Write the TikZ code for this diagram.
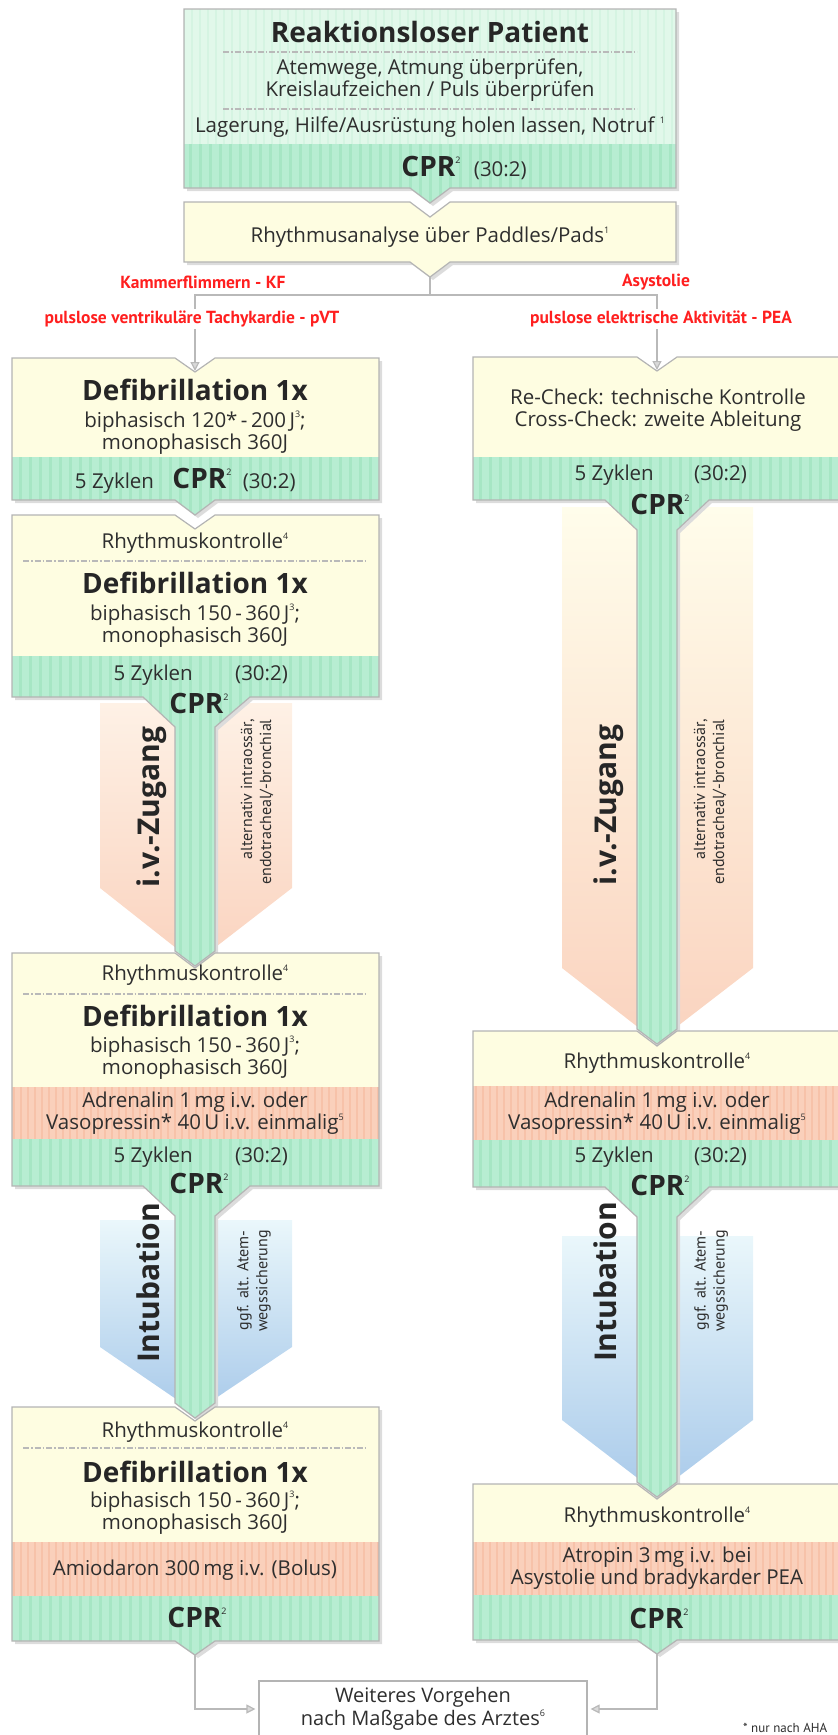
\documentclass[tikz,border=0pt]{standalone}
\usepackage{fontspec}
\setmainfont{Open Sans}
\newfontfamily\narrowfont{PT Sans}
\usetikzlibrary{arrows.meta,patterns.meta,positioning}

\definecolor{mint}{HTML}{E1F8EA}
\definecolor{mintstripe}{HTML}{D5F4E2}
\definecolor{cprgreen}{HTML}{B7EDD2}
\definecolor{cprstripe}{HTML}{A6E6C4}
\definecolor{cream}{HTML}{FEFDE1}
\definecolor{salmon}{HTML}{FAD0BB}
\definecolor{salmonstripe}{HTML}{F7C2A9}
\definecolor{bordergray}{HTML}{B4B4B4}
\definecolor{shadowgray}{HTML}{DCDCDC}
\definecolor{textgray}{HTML}{2E2E2E}
\definecolor{alarmred}{HTML}{FF1F1F}
\definecolor{ivtop}{HTML}{FFFDEB}
\definecolor{ivmid}{HTML}{FDE9E2}
\definecolor{ivbot}{HTML}{FAD3BF}
\definecolor{tubetop}{HTML}{EAF7FB}
\definecolor{tubemid}{HTML}{D6E2F4}
\definecolor{tubebot}{HTML}{A9CAEA}

% small raised footnote numbers
\newcommand{\hoch}[1]{\raisebox{0.45em}{\fontsize{9}{9}\selectfont\mdseries #1}}

\begin{document}
\begin{tikzpicture}[x=1pt, y=-1pt,
    boxline/.style={draw=bordergray, line width=1.2pt,
      preaction={fill=shadowgray, transform canvas={shift={(3,3)}}}},
    mintfill/.style={fill=mint, postaction={pattern={Lines[angle=90,distance=8pt,line width=2pt]}, pattern color=mintstripe}},
    cprband/.style={fill=cprgreen, postaction={pattern={Lines[angle=90,distance=10pt,line width=3pt]}, pattern color=cprstripe}},
    salmonband/.style={fill=salmon, postaction={pattern={Lines[angle=90,distance=7pt,line width=2.5pt]}, pattern color=salmonstripe}},
    txt/.style={font=\fontsize{20.5}{22.5}\selectfont, text=textgray, align=center, inner sep=0pt},
    title/.style={font=\fontsize{28}{31}\selectfont\bfseries, text=black!85, inner sep=0pt},
    head/.style={font=\fontsize{28}{31}\selectfont\bfseries, text=black!85, inner sep=0pt},
    cpr/.style={font=\fontsize{28}{31}\selectfont\bfseries, text=black!85, inner sep=0pt},
    redlabel/.style={font=\narrowfont\fontsize{17.5}{20}\selectfont\bfseries, text=alarmred, fill=white, inner sep=2pt},
    sidebig/.style={rotate=90, font=\fontsize{30}{32}\selectfont\bfseries, text=black!85, inner sep=0pt},
    sidesmall/.style={rotate=90, font=\narrowfont\fontsize{16}{19}\selectfont, text=textgray, align=right, inner sep=0pt},
    sepline/.style={draw=gray!55, line width=1.3pt, dash pattern=on 6pt off 2pt on 1.5pt off 2pt},
    flowline/.style={draw=gray!55, line width=1.2pt},
    flow/.style={flowline, -{Triangle[length=9pt,width=9pt,fill=gray!30]}},
    endbox/.style={draw=bordergray, line width=1.2pt, fill=white, minimum width=328pt,
      minimum height=56pt, font=\fontsize{20}{23}\selectfont, text=textgray, align=center}
  ]
  \useasboundingbox (0,0) rectangle (838,1735);
  \clip (0,0) rectangle (838,1735);

  % Side panels: i.v.-Zugang and Intubation
  \shade[top color=ivtop!40!ivmid, bottom color=ivbot] (100,703) -- (292,703) -- (292,888) -- (195,963) -- (100,888) -- cycle;
  \shade[top color=ivtop, middle color=ivmid, bottom color=ivbot] (562,507) -- (753,507) -- (753,968) -- (657,1042) -- (562,968) -- cycle;
  \shade[top color=tubetop, middle color=tubemid, bottom color=tubebot] (100,1220) -- (292,1220) -- (292,1347) -- (195,1412) -- (100,1347) -- cycle;
  \shade[top color=tubetop, middle color=tubemid, bottom color=tubebot] (562,1236) -- (753,1236) -- (753,1420) -- (657,1493) -- (562,1420) -- cycle;

  % Reaktionsloser Patient
  \draw[boxline, fill=mint, path picture={
      \fill[mintfill] (0,0) rectangle (900,144);
      \fill[cprband] (0,144) rectangle (900,260);}]
    (184,9) -- (676,9) -- (676,188) -- (450,188) -- (430,203) -- (410,188) -- (184,188) -- cycle;
  \draw[sepline] (223,52) -- (637,52);
  \draw[sepline] (223,109) -- (637,109);
  \node[title] (patient) at (430,32) {Reaktionsloser Patient};
  \node[txt] (pruefen) at (430,80) {Atemwege, Atmung überprüfen,\\Kreislaufzeichen / Puls überprüfen};
  \node[txt] (lagerung) at (430,127) {Lagerung, Hilfe/Ausrüstung holen lassen, Notruf \hoch{1}};
  \node[cpr] (cprTop) at (431,166) {CPR\hoch{2}};
  \node[txt, base right=13pt of cprTop] (ratioTop) {(30:2)};

  % Rhythmusanalyse
  \draw[boxline, fill=cream]
    (184,202) -- (410,202) -- (430,217) -- (450,202) -- (676,202) -- (676,262) -- (450,262) -- (430,277) -- (410,262) -- (184,262) -- cycle;
  \node[txt] (analyse) at (430,237) {Rhythmusanalyse über Paddles/Pads\hoch{1}};
  \coordinate (analyseOut) at (430,277);
  \coordinate (split) at (430,295);
  \coordinate (defibIn) at (195,371);
  \coordinate (checkIn) at (657,370);

  \draw[flowline] (analyseOut) -- (split);
  \draw[flow] (split) -| (defibIn);
  \draw[flow] (split) -| (checkIn);
  \node[redlabel] (kf) at (203,282) {Kammerflimmern - KF};
  \node[redlabel] (asys) at (656,282) {Asystolie};
  \node[redlabel] (pvt) at (192,319) {pulslose ventrikuläre Tachykardie - pVT};
  \node[redlabel] (pea) at (661,319) {pulslose elektrische Aktivität - PEA};

  % Left column, first shock
  \draw[boxline, fill=cream, path picture={\fill[cprband] (0,457) rectangle (900,560);}]
    (12,358) -- (175,358) -- (195,372) -- (215,358) -- (379,358) -- (379,500) -- (215,500) -- (195,515) -- (175,500) -- (12,500) -- cycle;
  \node[head] (defibA) at (195,390) {Defibrillation 1x};
  \node[txt] (joulesA) at (195,433) {biphasisch 120*\,-\,200\,J\hoch{3};\\monophasisch 360J};
  \node[cpr] (cprA) at (202,478) {CPR\hoch{2}};
  \node[txt, base left=18pt of cprA] (zyklenA) {5 Zyklen};
  \node[txt, base right=11pt of cprA] (ratioA) {(30:2)};

  % Left column, second shock
  \draw[boxline, fill=cream, path picture={\fill[cprband] (0,656) rectangle (900,1000);}]
    (12,515) -- (175,515) -- (195,529) -- (215,515) -- (379,515) -- (379,697) -- (250,697) -- (215,727)
    -- (215,951) -- (195,966) -- (175,951) -- (175,727) -- (143,697) -- (12,697) -- cycle;
  \node[txt] (kontrolleB) at (195,543) {Rhythmuskontrolle\hoch{4}};
  \draw[sepline] (23,561) -- (367,561);
  \node[head] (defibB) at (195,583) {Defibrillation 1x};
  \node[txt] (joulesB) at (195,626) {biphasisch 150\,-\,360\,J\hoch{3};\\monophasisch 360J};
  \node[txt, anchor=base east] (zyklenB) at (193,680) {5 Zyklen};
  \node[txt, anchor=base west] (ratioB) at (235,680) {(30:2)};
  \node[cpr] (cprB) at (199,703) {CPR\hoch{2}};
  \node[sidebig] (ivL) at (152,807) {i.v.-Zugang};
  \node[sidesmall] (altL) at (257,802) {alternativ intraossär,\\endotracheal/-bronchial};

  % Left column, third shock
  \draw[boxline, fill=cream, path picture={
      \fill[salmonband] (0,1087) rectangle (900,1139);
      \fill[cprband] (0,1139) rectangle (900,1500);}]
    (12,953) -- (175,953) -- (195,968) -- (215,953) -- (379,953) -- (379,1186) -- (250,1186) -- (215,1216)
    -- (215,1403) -- (195,1418) -- (175,1403) -- (175,1216) -- (143,1186) -- (12,1186) -- cycle;
  \node[txt] (kontrolleC) at (195,975) {Rhythmuskontrolle\hoch{4}};
  \draw[sepline] (23,994) -- (367,994);
  \node[head] (defibC) at (195,1016) {Defibrillation 1x};
  \node[txt] (joulesC) at (195,1058) {biphasisch 150\,-\,360\,J\hoch{3};\\monophasisch 360J};
  \node[txt] (adrenalinC) at (195,1113) {Adrenalin 1\,mg i.v. oder\\Vasopressin* 40\,U i.v. einmalig\hoch{5}};
  \node[txt, anchor=base east] (zyklenC) at (193,1162) {5 Zyklen};
  \node[txt, anchor=base west] (ratioC) at (235,1162) {(30:2)};
  \node[cpr] (cprC) at (199,1183) {CPR\hoch{2}};
  \node[sidebig] (tubeL) at (148,1283) {Intubation};
  \node[sidesmall] (atemL) at (254,1281) {ggf. alt. Atem-\\wegssicherung};

  % Left column, fourth shock
  \draw[boxline, fill=cream, path picture={
      \fill[salmonband] (0,1542) rectangle (900,1596);
      \fill[cprband] (0,1596) rectangle (900,1700);}]
    (12,1407) -- (175,1407) -- (195,1421) -- (215,1407) -- (379,1407) -- (379,1641) -- (215,1641) -- (195,1655) -- (175,1641) -- (12,1641) -- cycle;
  \node[txt] (kontrolleD) at (195,1432) {Rhythmuskontrolle\hoch{4}};
  \draw[sepline] (23,1448) -- (367,1448);
  \node[head] (defibD) at (195,1472) {Defibrillation 1x};
  \node[txt] (joulesD) at (195,1513) {biphasisch 150\,-\,360\,J\hoch{3};\\monophasisch 360J};
  \node[txt] (amiodaron) at (195,1570) {Amiodaron 300\,mg i.v. (Bolus)};
  \node[cpr] (cprD) at (197,1617) {CPR\hoch{2}};
  \coordinate (defibOut) at (195,1655);

  % Right column, re-check
  \draw[boxline, fill=cream, path picture={\fill[cprband] (0,457) rectangle (900,1100);}]
    (473,357) -- (637,357) -- (657,371) -- (677,357) -- (841,357) -- (841,500) -- (709,500) -- (677,530)
    -- (677,1029) -- (657,1044) -- (637,1029) -- (637,530) -- (605,500) -- (473,500) -- cycle;
  \node[txt] (recheck) at (658,410) {Re-Check: technische Kontrolle\\Cross-Check: zweite Ableitung};
  \node[txt, anchor=base east] (zyklenR) at (654,480) {5 Zyklen};
  \node[txt, anchor=base west] (ratioR) at (694,480) {(30:2)};
  \node[cpr] (cprR) at (660,504) {CPR\hoch{2}};
  \node[sidebig] (ivR) at (609,805) {i.v.-Zugang};
  \node[sidesmall] (altR) at (710,802) {alternativ intraossär,\\endotracheal/-bronchial};

  % Right column, adrenalin
  \draw[boxline, fill=cream, path picture={
      \fill[salmonband] (0,1086) rectangle (900,1140);
      \fill[cprband] (0,1140) rectangle (900,1550);}]
    (473,1031) -- (637,1031) -- (657,1046) -- (677,1031) -- (841,1031) -- (841,1187) -- (709,1187) -- (677,1217)
    -- (677,1482) -- (657,1497) -- (637,1482) -- (637,1217) -- (605,1187) -- (473,1187) -- cycle;
  \node[txt] (kontrolleR) at (657,1063) {Rhythmuskontrolle\hoch{4}};
  \node[txt] (adrenalinR) at (657,1113) {Adrenalin 1\,mg i.v. oder\\Vasopressin* 40\,U i.v. einmalig\hoch{5}};
  \node[txt, anchor=base east] (zyklenS) at (654,1162) {5 Zyklen};
  \node[txt, anchor=base west] (ratioS) at (694,1162) {(30:2)};
  \node[cpr] (cprS) at (660,1185) {CPR\hoch{2}};
  \node[sidebig] (tubeR) at (605,1282) {Intubation};
  \node[sidesmall] (atemR) at (711,1281) {ggf. alt. Atem-\\wegssicherung};

  % Right column, atropin
  \draw[boxline, fill=cream, path picture={
      \fill[salmonband] (0,1542) rectangle (900,1595);
      \fill[cprband] (0,1595) rectangle (900,1700);}]
    (473,1484) -- (637,1484) -- (657,1499) -- (677,1484) -- (841,1484) -- (841,1640) -- (677,1640) -- (657,1654) -- (637,1640) -- (473,1640) -- cycle;
  \node[txt] (kontrolleT) at (657,1517) {Rhythmuskontrolle\hoch{4}};
  \node[txt] (atropin) at (657,1568) {Atropin 3\,mg i.v. bei\\Asystolie und bradykarder PEA};
  \node[cpr] (cprT) at (659,1618) {CPR\hoch{2}};
  \coordinate (atropinOut) at (657,1654);

  % Weiteres Vorgehen
  \node[endbox] (weiter) at (423,1709) {Weiteres Vorgehen\\nach Maßgabe des Arztes\hoch{6}};
  \draw[flow, shorten >=3pt] (defibOut) |- (weiter.west);
  \draw[flow, shorten >=3pt] (atropinOut) |- (weiter.east);
  \node[font=\narrowfont\fontsize{13}{15}\selectfont, text=textgray, anchor=base west, inner sep=0pt] (aha) at (743,1732) {* nur nach AHA};
\end{tikzpicture}
\end{document}
